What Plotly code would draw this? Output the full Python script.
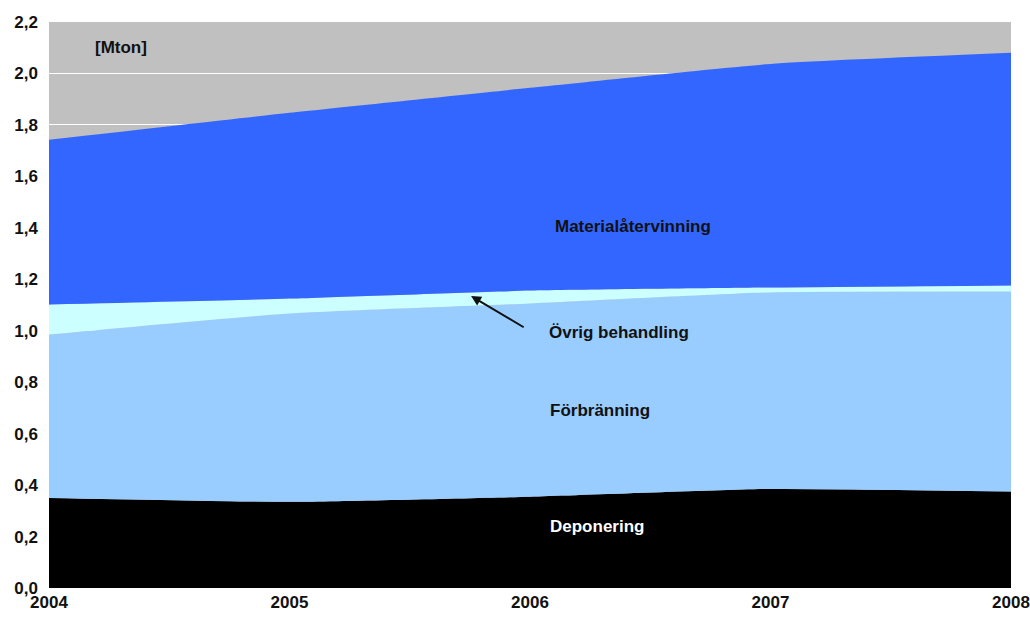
import plotly.graph_objects as go

years = [2004, 2005, 2006, 2007, 2008]
deponering = [0.350, 0.335, 0.355, 0.385, 0.375]
forbranning = [0.635, 0.732, 0.751, 0.764, 0.777]
ovrig = [0.117, 0.058, 0.050, 0.019, 0.024]
material = [0.640, 0.722, 0.788, 0.869, 0.904]
y_ticks = [0.0, 0.2, 0.4, 0.6, 0.8, 1.0, 1.2, 1.4, 1.6, 1.8, 2.0, 2.2]

series = [
    ("Deponering", deponering, "#000000"),
    ("Förbränning", forbranning, "#99CCFF"),
    ("Övrig behandling", ovrig, "#CCFFFF"),
    ("Materialåtervinning", material, "#3366FF"),
]

fig = go.Figure()
for name, vals, color in series:
    fig.add_trace(go.Scatter(
        x=years, y=vals, name=name, stackgroup="one", mode="lines",
        line=dict(width=0, color=color, shape="spline", smoothing=0.5),
        fillcolor=color, showlegend=False,
    ))

font = "Liberation Sans, Arial, sans-serif"
fig.update_layout(
    width=1030, height=619,
    margin=dict(l=49, r=19, t=22, b=31),
    paper_bgcolor="white", plot_bgcolor="#C0C0C0",
    font=dict(family=font, size=17, color="#111111"),
    xaxis=dict(range=[2004, 2008], tickvals=years,
               ticktext=["<b>%d</b>" % y for y in years],
               showgrid=False, zeroline=False, showline=False, automargin=False,
               tickfont=dict(size=17, color="#111111", family=font), ticks="",
               ticklabelstandoff=2),
    yaxis=dict(range=[0, 2.2], tickvals=y_ticks,
               ticktext=["<b>%s</b>" % ("%.1f" % v).replace(".", ",") for v in y_ticks],
               showgrid=True, gridcolor="white", gridwidth=1.2, zeroline=False,
               showline=False, automargin=False,
               tickfont=dict(size=17, color="#111111", family=font), ticks="",
               ticklabelstandoff=10, layer="below traces"),
)

def label(x, y, text, color="#111111"):
    fig.add_annotation(x=x, y=y, xref="x", yref="y", text="<b>%s</b>" % text,
                       showarrow=False, font=dict(size=17, color=color, family=font))

label(2004.30, 2.10, "[Mton]")
label(2006.43, 1.405, "Materialåtervinning")
label(2006.29, 0.69, "Förbränning")
label(2006.28, 0.24, "Deponering", color="white")
fig.add_annotation(x=2005.755, y=1.135, ax=2005.98, ay=1.01, xref="x", yref="y",
                   axref="x", ayref="y", text="", showarrow=True, arrowhead=2,
                   arrowsize=1.0, arrowwidth=2, arrowcolor="#111111")
fig.add_annotation(x=2006.07, y=0.995, xref="x", yref="y", xanchor="left",
                   text="<b>Övrig behandling</b>", showarrow=False,
                   font=dict(size=17, color="#111111", family=font))

fig.write_html("out.html")
